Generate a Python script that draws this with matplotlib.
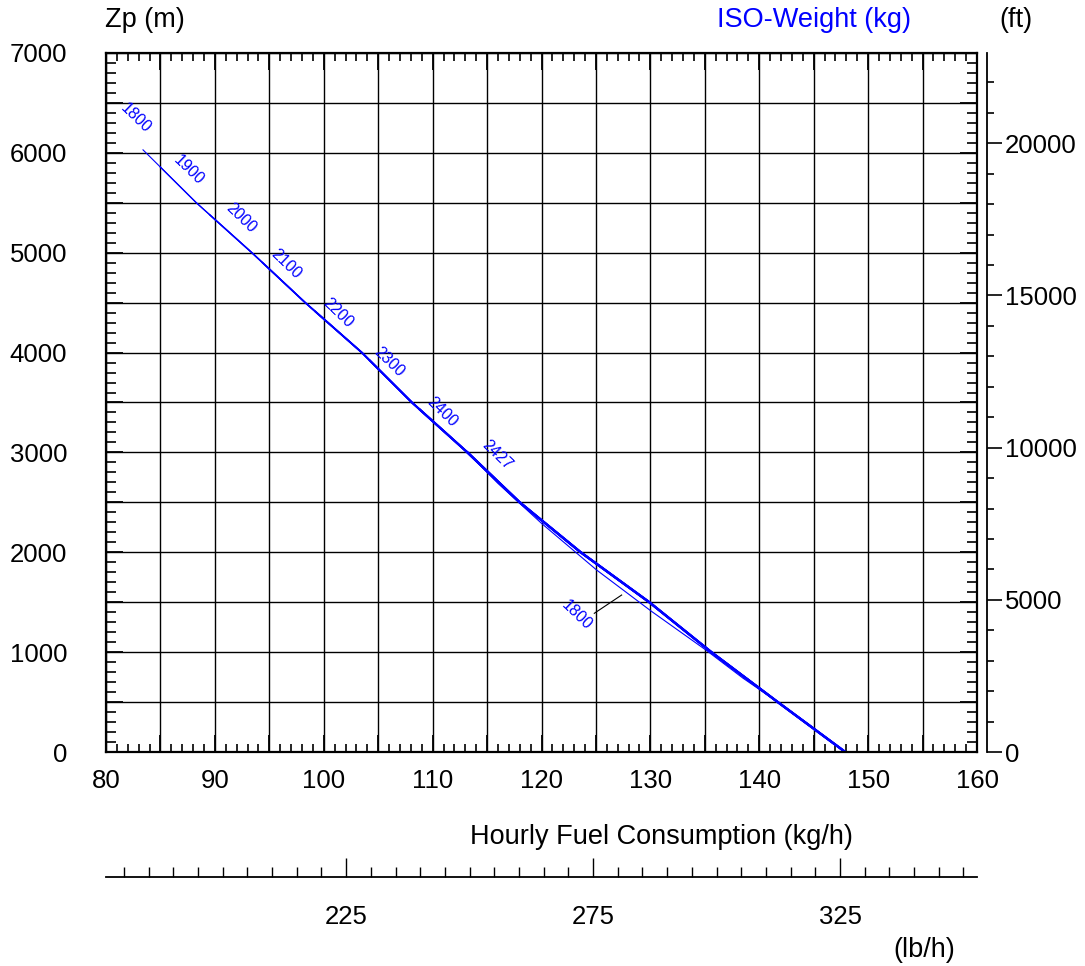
import numpy as np
import matplotlib
matplotlib.use("Agg")
import matplotlib.pyplot as plt
from matplotlib.ticker import MultipleLocator, FixedLocator

plt.rcParams['font.family'] = ['Liberation Sans', 'DejaVu Sans']

# courbe principale (kg/h en fonction de Zp)
main_fuel = [83.4, 88.3, 93.4, 98.3, 103.5, 108.1, 113.2, 118.0, 123.6, 129.9, 135.6, 141.7, 147.9]
main_zp = [6030, 5500, 5000, 4500, 4000, 3500, 3000, 2500, 2000, 1500, 1000, 500, 0]

# partie basse de la courbe 1800 kg, qui se sépare de la principale
low_fuel = [116.0, 120.0, 125.07, 130.06, 135.1, 138.5, 141.7]
low_zp = [2690, 2290, 1822, 1412, 1021, 740, 500]

# plafonds et étiquettes des masses
weights = ['1800', '1900', '2000', '2100', '2200', '2300', '2400', '2427']
ceilings = [6030, 5860, 5380, 4900, 4410, 3920, 3430, 3000]
label_fuel = [82.7, 87.6, 92.4, 96.5, 101.3, 106.0, 110.9, 115.9]
label_zp = [6346, 5828, 5351, 4884, 4393, 3902, 3408, 2974]

low_label = '1800'
low_label_pos = (123.2, 1372)
leader_fuel = [124.85, 127.36]
leader_zp = [1389, 1572]

ft_ticks = [0, 5000, 10000, 15000, 20000]
lb_ticks = [225, 275, 325]

W, H = 1085, 966
FS = 18.5   # graduations
FT = 19.5   # titres
fig = plt.figure(figsize=(W / 100, H / 100), dpi=100)

ax = fig.add_axes([106 / W, 1 - 752 / H, 871 / W, 699 / H])
ax.set_xlim(80, 160)
ax.set_ylim(0, 7000)

# grille
ax.xaxis.set_major_locator(MultipleLocator(5))
ax.yaxis.set_major_locator(MultipleLocator(500))
ax.xaxis.set_minor_locator(MultipleLocator(1))
ax.yaxis.set_minor_locator(MultipleLocator(100))
ax.grid(True, which='major', color='black', lw=1.0)
ax.set_xticklabels([f'{v:.0f}' if v % 10 == 0 else '' for v in ax.get_xticks()])
ax.set_yticklabels([f'{v:.0f}' if v % 1000 == 0 else '' for v in ax.get_yticks()])

ax.tick_params(axis='x', which='both', direction='in', top=True, bottom=True, labelsize=FS, pad=12)
ax.tick_params(axis='y', which='both', direction='in', left=True, right=True, labelsize=FS, pad=28)
ax.tick_params(axis='x', which='minor', length=5.5, width=1.2)
ax.tick_params(axis='y', which='minor', length=7, width=1.2)
ax.tick_params(which='major', length=12, width=1.3)
for s in ax.spines.values():
    s.set_linewidth(1.6)
ax.yaxis.get_major_ticks()[0].set_pad(16)

# courbes
main_fuel_a = np.array(main_fuel)
main_zp_a = np.array(main_zp)
top_part = main_zp_a > low_zp[0]
f1800 = np.concatenate([main_fuel_a[top_part], low_fuel])
z1800 = np.concatenate([main_zp_a[top_part], low_zp])
ax.plot(f1800, z1800, color='blue', lw=0.8)

for i, c in enumerate(ceilings[1:]):
    f_top = np.interp(c, main_zp_a[::-1], main_fuel_a[::-1])
    keep = main_zp_a < c
    ax.plot(np.r_[f_top, main_fuel_a[keep]], np.r_[c, main_zp_a[keep]],
            color='blue', lw=0.95 + 0.14 * i)

for w, fx, zy in zip(weights, label_fuel, label_zp):
    ax.text(fx, zy, w, color='blue', fontsize=11.5, rotation=-44,
            rotation_mode='anchor', ha='center', va='center')
ax.text(low_label_pos[0], low_label_pos[1], low_label, color='blue', fontsize=11.5,
        rotation=-44, rotation_mode='anchor', ha='center', va='center')
ax.plot(leader_fuel, leader_zp, color='black', lw=0.8)

# axe secondaire en pieds
ax_ft = fig.add_axes([987 / W - 1e-4, 1 - 752 / H, 1e-4, 699 / H])
ax_ft.set_ylim(0, 7000 / 0.3048)
ax_ft.set_xticks([])
for k in ['left', 'top', 'bottom']:
    ax_ft.spines[k].set_visible(False)
ax_ft.spines['right'].set_linewidth(1.3)
ax_ft.patch.set_visible(False)
ax_ft.yaxis.tick_right()
ax_ft.yaxis.set_major_locator(FixedLocator(ft_ticks))
ax_ft.yaxis.set_minor_locator(MultipleLocator(1000))
ax_ft.tick_params(axis='y', which='major', direction='out', length=11, width=1.2, labelsize=FS, pad=2)
ax_ft.tick_params(axis='y', which='minor', direction='out', length=5, width=1.2)

# axe secondaire en lb/h
ax_lb = fig.add_axes([106 / W, 1 - 877 / H, 871 / W, 1e-4])
ax_lb.set_xlim(80 * 2.20462, 160 * 2.20462)
ax_lb.set_yticks([])
for k in ['left', 'top', 'right']:
    ax_lb.spines[k].set_visible(False)
ax_lb.spines['bottom'].set_linewidth(1.3)
ax_lb.patch.set_visible(False)
ax_lb.xaxis.set_major_locator(FixedLocator(lb_ticks))
ax_lb.xaxis.set_minor_locator(FixedLocator([v for v in range(180, 351, 5) if v not in lb_ticks]))
ax_lb.tick_params(axis='x', which='major', direction='in', length=14, width=1.0, labelsize=FS, pad=20)
ax_lb.tick_params(axis='x', which='minor', direction='in', length=7, width=1.0)

# textes
fig.text(105 / W, 1 - 20 / H, 'Zp (m)', fontsize=FT, ha='left', va='center')
fig.text(814 / W, 1 - 20 / H, 'ISO-Weight (kg)', fontsize=FT, ha='center', va='center', color='blue')
fig.text(1016 / W, 1 - 20 / H, '(ft)', fontsize=FT, ha='center', va='center')
fig.text(661 / W, 1 - 837 / H, 'Hourly Fuel Consumption (kg/h)', fontsize=FT, ha='center', va='center')
fig.text(924 / W, 1 - 950 / H, '(lb/h)', fontsize=FT, ha='center', va='center')

fig.savefig('out.png', dpi=100)
